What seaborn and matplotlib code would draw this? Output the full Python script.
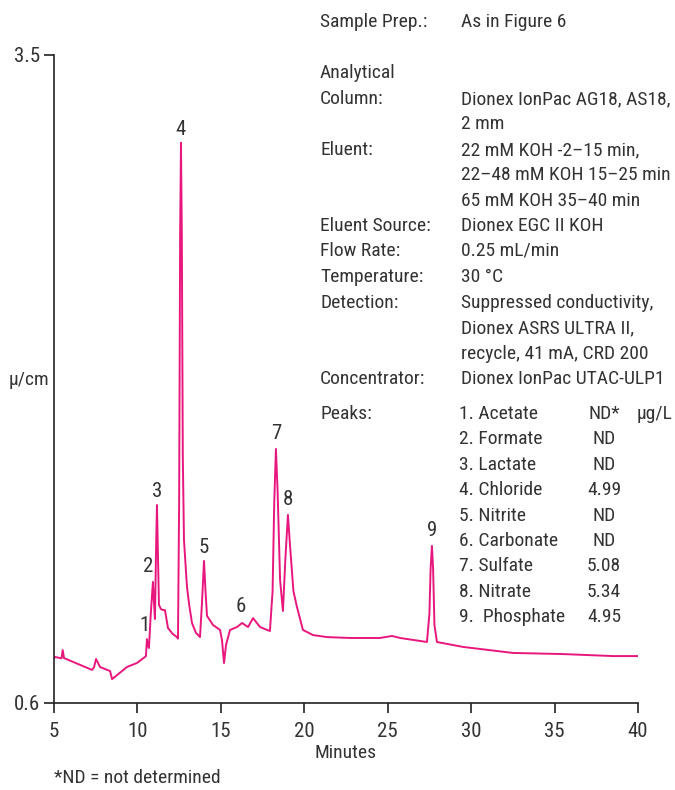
import matplotlib
matplotlib.use("Agg")
import matplotlib.pyplot as plt
import seaborn as sns
import pandas as pd
from matplotlib import font_manager

# ---- data ----
time_min = [5.00, 5.06, 5.45, 5.52, 5.60, 6.14, 7.28, 7.40, 7.52, 7.76, 8.36, 8.48, 8.78, 9.37,
            9.97, 10.45, 10.51, 10.57, 10.63, 10.69, 10.80, 10.93, 10.99, 11.05, 11.12, 11.17,
            11.22, 11.29, 11.41, 11.53, 11.65, 11.83, 12.10, 12.37, 12.43, 12.50, 12.56, 12.61,
            12.66, 12.72, 12.79, 12.90, 12.97, 13.10, 13.27, 13.50, 13.75, 13.87, 13.99, 14.08,
            14.17, 14.53, 14.95, 15.07, 15.19, 15.31, 15.55, 15.97, 16.27, 16.63, 16.93, 17.35,
            17.94, 18.10, 18.20, 18.30, 18.40, 18.55, 18.72, 18.87, 19.02, 19.15, 19.35, 19.56,
            19.92, 20.52, 21.36, 22.74, 24.54, 25.26, 25.74, 27.35, 27.50, 27.57, 27.65, 27.72,
            27.80, 27.95, 29.51, 32.51, 35.50, 38.50, 40.00]
signal = [0.800, 0.806, 0.800, 0.837, 0.801, 0.784, 0.748, 0.760, 0.797, 0.761, 0.743, 0.707, 0.725, 0.761,
          0.779, 0.806, 0.810, 0.886, 0.860, 0.846, 1.000, 1.142, 1.050, 0.976, 1.300, 1.486,
          1.300, 1.039, 1.020, 1.016, 1.016, 0.936, 0.910, 0.895, 0.888, 1.500, 2.700, 3.107,
          2.700, 1.700, 1.330, 1.200, 1.119, 1.040, 0.958, 0.915, 0.895, 1.050, 1.236, 1.100,
          0.990, 0.949, 0.927, 0.880, 0.779, 0.860, 0.927, 0.940, 0.958, 0.940, 0.980, 0.940,
          0.922, 1.100, 1.500, 1.737, 1.550, 1.150, 1.012, 1.250, 1.442, 1.300, 1.100, 1.030,
          0.927, 0.904, 0.895, 0.891, 0.891, 0.900, 0.891, 0.873, 1.000, 1.200, 1.303, 1.200,
          0.950, 0.873, 0.851, 0.824, 0.819, 0.810, 0.810]

peak_labels = ["1", "2", "3", "4", "5", "6", "7", "8", "9"]
peak_label_x = [10.45, 10.63, 11.17, 12.61, 13.99, 16.21, 18.30, 19.02, 27.65]
peak_label_y = [0.949, 1.209, 1.545, 3.165, 1.294, 1.030, 1.804, 1.509, 1.374]

x_ticks = [5, 10, 15, 20, 25, 30, 35, 40]
y_ticks = [0.6, 3.5]
y_tick_labels = ["0.6", "3.5"]

cond_labels = ["Sample Prep.:", "Analytical", "Column:", "", "Eluent:", "", "",
               "Eluent Source:", "Flow Rate:", "Temperature:", "Detection:", "", "",
               "Concentrator:"]
cond_values = ["As in Figure 6", "", "Dionex IonPac AG18, AS18,", "2 mm",
               "22 mM KOH -2\u201315 min,", "22\u201348 mM KOH 15\u201325 min",
               "65 mM KOH 35\u201340 min", "Dionex EGC II KOH", "0.25 mL/min", "30 \u00b0C",
               "Suppressed conductivity,", "Dionex ASRS ULTRA II,",
               "recycle, 41 mA, CRD 200", "Dionex IonPac UTAC-ULP1"]
cond_rows_px = [22, 73, 99, 124, 150, 175, 201, 226, 251, 277, 303, 328, 354, 379]

peak_names = ["1. Acetate", "2. Formate", "3. Lactate", "4. Chloride", "5. Nitrite",
              "6. Carbonate", "7. Sulfate", "8. Nitrate", "9.  Phosphate"]
peak_amounts = ["ND*", "ND", "ND", "4.99", "ND", "ND", "5.08", "5.34", "4.95"]

# ---- style ----
sns.set_style("ticks")
available = {f.name for f in font_manager.fontManager.ttflist}
condensed = [f for f in ["Roboto Condensed", "Liberation Sans Narrow", "Open Sans Condensed"]
             if f in available]
plt.rcParams["font.family"] = condensed + ["Liberation Sans", "DejaVu Sans"]
FS = 14
WT = "normal"
TXT = "#333333"
LINE = "#e8177e"

W, H = 675, 790
fig = plt.figure(figsize=(W / 100, H / 100), dpi=100)
ax = fig.add_axes([54 / W, 1 - 703 / H, (638 - 54) / W, (703 - 55) / H])

df = pd.DataFrame({"Minutes": time_min, "signal": signal})
sns.lineplot(data=df, x="Minutes", y="signal", ax=ax, color=LINE, linewidth=1.4)

ax.set_xlim(5, 40)
ax.set_ylim(0.6, 3.5)
ax.set_xticks(x_ticks)
ax.set_yticks(y_ticks)
ax.set_yticklabels(y_tick_labels)
for s in ["top", "right"]:
    ax.spines[s].set_visible(False)
for s in ["left", "bottom"]:
    ax.spines[s].set_color("#222222")
    ax.spines[s].set_linewidth(1.2)
ax.tick_params(axis="both", direction="out", length=7, width=1.2, color="#222222",
               labelsize=FS + 1, labelcolor=TXT)
ax.tick_params(axis="x", pad=7)
ax.tick_params(axis="y", pad=3)
for t in ax.get_xticklabels() + ax.get_yticklabels():
    t.set_fontweight(WT)
ax.set_xlabel("Minutes", fontsize=FS, color=TXT, labelpad=2, fontweight=WT)
ax.set_ylabel("\u03bc/cm", fontsize=FS, color=TXT, rotation=0, ha="right", va="center",
              fontweight=WT)
ax.yaxis.set_label_coords(-0.008, (703 - 380) / (703 - 55))

for lab, lx, ly in zip(peak_labels, peak_label_x, peak_label_y):
    ax.text(lx, ly, lab, ha="center", va="center", fontsize=FS + 1, color=TXT, fontweight=WT)

def fy(py):
    return 1 - py / H

for lab, val, py in zip(cond_labels, cond_values, cond_rows_px):
    if lab:
        fig.text(320 / W, fy(py), lab, ha="left", va="center", fontsize=FS, color=TXT,
                 fontweight=WT)
    if val:
        fig.text(461 / W, fy(py), val, ha="left", va="center", fontsize=FS, color=TXT,
                 fontweight=WT)

peak_row0 = 414
fig.text(320 / W, fy(peak_row0), "Peaks:", ha="left", va="center", fontsize=FS, color=TXT,
         fontweight=WT)
for i, (nm, amt) in enumerate(zip(peak_names, peak_amounts)):
    py = peak_row0 + i * 25.4
    fig.text(459 / W, fy(py), nm, ha="left", va="center", fontsize=FS, color=TXT, fontweight=WT)
    fig.text(604 / W, fy(py), amt, ha="center", va="center", fontsize=FS, color=TXT,
             fontweight=WT)
fig.text(637 / W, fy(peak_row0), "\u03bcg/L", ha="left", va="center", fontsize=FS, color=TXT,
         fontweight=WT)

fig.text(54 / W, fy(778), "*ND = not determined", ha="left", va="center", fontsize=FS,
         color=TXT, fontweight=WT)

fig.savefig("out.png", dpi=100)
